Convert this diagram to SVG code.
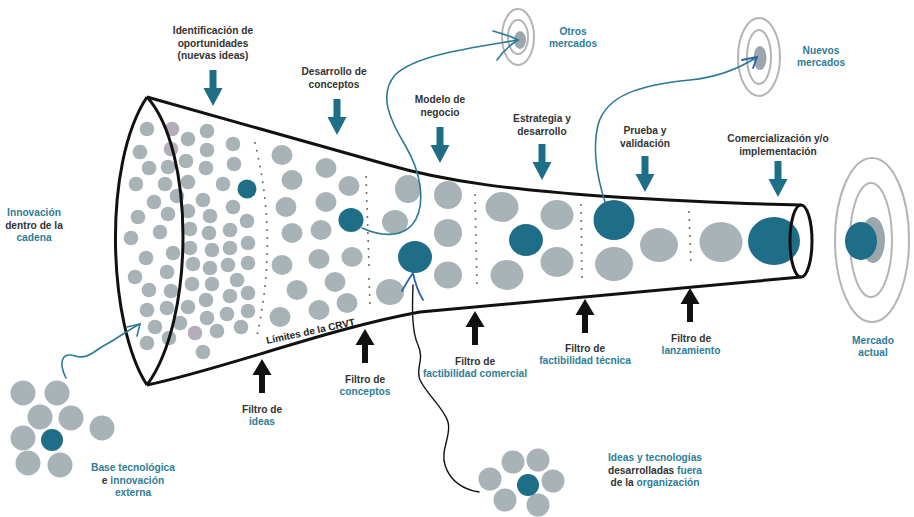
<svg xmlns="http://www.w3.org/2000/svg" xmlns:xlink="http://www.w3.org/1999/xlink" width="914" height="517" viewBox="0 0 914 517">
<defs>
<style>
.lbl{font-family:"Liberation Sans",Arial,sans-serif;font-weight:bold;font-size:10.2px;fill:#333;text-anchor:middle}
.tl{fill:#2c7d98}
.g{fill:#a8b3b8}
.p{fill:#b5adba}
.t{fill:#1f6e87}
.ring{fill:none;stroke:#b5b5b5;stroke-width:2}
.dots{fill:none;stroke:#6e6752;stroke-width:2;stroke-linecap:round;stroke-dasharray:0 8}
.outline{fill:none;stroke:#111;stroke-width:3;stroke-linejoin:round}
.conn{fill:none;stroke:#2a7b95;stroke-width:1.6;stroke-linecap:round}
.blk{fill:none;stroke:#111;stroke-width:1.4;stroke-linecap:round}
.head{fill:none;stroke:#2f62a8;stroke-width:1.8;stroke-linecap:round;stroke-linejoin:round}
</style>
<path id="down" d="M-3.5,-36 H3.5 V-18 H9.5 L0,0 L-9.5,-18 H-3.5 Z"/>
<path id="up" d="M0,0 L9.5,16 H3 V34 H-3 V16 H-9.5 Z"/>
</defs>

<g id="funnel-contents">
<g id="stage-ideas">
<circle class="g" cx="147" cy="129" r="7.3"/><circle class="p" cx="172" cy="129" r="7.3"/><circle class="g" cx="188" cy="139" r="7.3"/><circle class="g" cx="207" cy="131" r="7.3"/>
<circle class="g" cx="140" cy="152" r="7.3"/><circle class="p" cx="171" cy="149" r="7.3"/><circle class="g" cx="207" cy="150" r="7.3"/><circle class="g" cx="233" cy="144" r="7.3"/>
<circle class="g" cx="149" cy="168" r="7.3"/><circle class="g" cx="168" cy="167" r="7.3"/><circle class="g" cx="186" cy="161" r="7.3"/><circle class="g" cx="206" cy="168" r="7.3"/><circle class="g" cx="234" cy="164" r="7.3"/>
<circle class="g" cx="136" cy="184" r="7.3"/><circle class="g" cx="165" cy="184" r="7.3"/><circle class="g" cx="188" cy="182" r="7.3"/><circle class="g" cx="223" cy="184" r="7.3"/><circle class="t" cx="247" cy="189" r="9.5"/>
<circle class="g" cx="154" cy="202" r="7.3"/><circle class="g" cx="177" cy="196" r="7.3"/><circle class="g" cx="203" cy="200" r="7.3"/><circle class="g" cx="188" cy="211" r="7.3"/>
<circle class="g" cx="138" cy="217" r="7.3"/><circle class="g" cx="168" cy="214" r="7.3"/><circle class="g" cx="210" cy="216" r="7.3"/><circle class="g" cx="233" cy="207" r="7.3"/><circle class="g" cx="247" cy="221" r="7.3"/>
<circle class="g" cx="131" cy="238" r="7.3"/><circle class="g" cx="160" cy="232" r="7.3"/><circle class="g" cx="190" cy="229" r="7.3"/><circle class="g" cx="209" cy="233" r="7.3"/><circle class="g" cx="230" cy="230" r="7.3"/>
<circle class="g" cx="146" cy="258" r="7.3"/><circle class="g" cx="173" cy="253" r="7.3"/><circle class="g" cx="190" cy="248" r="7.3"/><circle class="g" cx="212" cy="250" r="7.3"/><circle class="g" cx="230" cy="248" r="7.3"/><circle class="g" cx="248" cy="243" r="7.3"/>
<circle class="g" cx="135" cy="277" r="7.3"/><circle class="g" cx="167" cy="272" r="7.3"/><circle class="g" cx="193" cy="264" r="7.3"/><circle class="g" cx="210" cy="268" r="7.3"/><circle class="g" cx="228" cy="265" r="7.3"/><circle class="g" cx="248" cy="263" r="7.3"/>
<circle class="g" cx="149" cy="290" r="7.3"/><circle class="g" cx="171" cy="291" r="7.3"/><circle class="g" cx="192" cy="284" r="7.3"/><circle class="g" cx="212" cy="284" r="7.3"/><circle class="g" cx="237" cy="280" r="7.3"/>
<circle class="g" cx="147" cy="310" r="7.3"/><circle class="g" cx="167" cy="308" r="7.3"/><circle class="g" cx="188" cy="307" r="7.3"/><circle class="g" cx="206" cy="300" r="7.3"/><circle class="g" cx="230" cy="296" r="7.3"/><circle class="g" cx="248" cy="293" r="7.3"/>
<circle class="g" cx="207" cy="318" r="7.3"/><circle class="g" cx="227" cy="314" r="7.3"/><circle class="g" cx="248" cy="311" r="7.3"/>
<circle class="g" cx="155" cy="327" r="7.3"/><circle class="g" cx="180" cy="323" r="7.3"/><circle class="p" cx="195" cy="333" r="7.3"/><circle class="g" cx="217" cy="331" r="7.3"/><circle class="g" cx="241" cy="327" r="7.3"/>
<circle class="g" cx="147" cy="343" r="7.3"/><circle class="g" cx="169" cy="338" r="7.3"/><circle class="g" cx="203" cy="352" r="7.3"/>
</g>
<g id="stage-concepts">
<ellipse class="g" cx="282" cy="155" rx="10.5" ry="10"/><ellipse class="g" cx="292" cy="180" rx="10.5" ry="10"/><ellipse class="g" cx="286" cy="207" rx="10.5" ry="10"/><ellipse class="g" cx="292" cy="233" rx="10.5" ry="10"/>
<ellipse class="g" cx="282" cy="265" rx="10.5" ry="10"/><ellipse class="g" cx="297" cy="290" rx="10.5" ry="10"/><ellipse class="g" cx="280" cy="317" rx="10.5" ry="10"/>
<ellipse class="g" cx="326" cy="168" rx="10.5" ry="10"/><ellipse class="g" cx="349" cy="186" rx="10.5" ry="10"/><ellipse class="g" cx="326" cy="202" rx="10.5" ry="10"/><ellipse class="g" cx="321" cy="230" rx="10.5" ry="10"/>
<ellipse class="g" cx="319" cy="259" rx="10.5" ry="10"/><ellipse class="g" cx="352" cy="257" rx="10.5" ry="10"/><ellipse class="g" cx="335" cy="282" rx="10.5" ry="10"/><ellipse class="g" cx="319" cy="310" rx="10.5" ry="10"/><ellipse class="g" cx="347" cy="303" rx="10.5" ry="10"/>
<ellipse class="t" cx="351" cy="220" rx="12.5" ry="12"/>
</g>
<g id="stage-business">
<ellipse class="g" cx="408" cy="189" rx="13" ry="14"/><ellipse class="g" cx="395" cy="222" rx="13" ry="12"/><ellipse class="g" cx="390" cy="292" rx="14" ry="13"/>
<ellipse class="g" cx="448" cy="195" rx="14" ry="14"/><ellipse class="g" cx="448" cy="233" rx="14" ry="14"/><ellipse class="g" cx="448" cy="275" rx="14" ry="13.5"/>
<ellipse class="t" cx="415" cy="257" rx="17" ry="16"/>
</g>
<g id="stage-strategy">
<ellipse class="g" cx="502" cy="207" rx="16.5" ry="15"/><ellipse class="g" cx="557" cy="215" rx="16.5" ry="15"/><ellipse class="g" cx="507" cy="275" rx="16.5" ry="15"/><ellipse class="g" cx="557" cy="262" rx="16.5" ry="15"/>
<ellipse class="t" cx="526" cy="240" rx="17" ry="16"/>
</g>
<g id="stage-test">
<ellipse class="t" cx="614" cy="220" rx="20.5" ry="20"/><ellipse class="g" cx="614" cy="264" rx="19" ry="17"/><ellipse class="g" cx="659" cy="245" rx="19" ry="17"/>
</g>
<g id="stage-launch">
<ellipse class="g" cx="721" cy="242" rx="21.5" ry="20"/><ellipse class="t" cx="774" cy="241" rx="26" ry="24"/>
</g>
<g id="filters-dotted">
<path class="dots" d="M255,143 Q279,240 256,340"/>
<path class="dots" d="M366,177 L369,265 M369,279 L370,304"/>
<path class="dots" d="M475,195 L477,287"/>
<path class="dots" d="M581,205 L582,278"/>
<path class="dots" d="M689,212 L691,265"/>
</g>
</g>

<g id="funnel">
<path class="outline" d="M147,97 L385,164 C450,183 520,190 600,196 C680,201 740,204 801,205"/>
<path class="outline" d="M147,385 C220,370 330,328 420,312 L801,277"/>
<path class="outline" d="M147,97 C102,165 108,325 147,385"/>
<path class="outline" d="M147,97 C195,150 195,320 147,385"/>
<ellipse class="outline" cx="801" cy="241" rx="11" ry="36"/>
<text class="lbl" font-size="10" text-anchor="start" transform="translate(267,344) rotate(-12)" style="text-anchor:start;font-size:10px;fill:#222">Límites de la CRVT</text>
</g>

<g id="market-otros">
<ellipse class="ring" cx="518" cy="37" rx="16" ry="28"/>
<ellipse class="ring" cx="518" cy="37" rx="10" ry="17"/>
<ellipse cx="520" cy="40" rx="6" ry="9" fill="#9ca7ad"/>
<text class="lbl tl" x="573" y="35">Otros</text>
<text class="lbl tl" x="573" y="47">mercados</text>
</g>
<g id="market-nuevos">
<ellipse class="ring" cx="759" cy="57" rx="21" ry="39"/>
<ellipse class="ring" cx="759" cy="57" rx="12" ry="27"/>
<ellipse cx="760" cy="58" rx="6.5" ry="12" fill="#9ca7ad"/>
<text class="lbl tl" x="821" y="54">Nuevos</text>
<text class="lbl tl" x="821" y="66">mercados</text>
</g>
<g id="market-actual">
<ellipse class="ring" cx="872" cy="240" rx="37" ry="82"/>
<ellipse class="ring" cx="871" cy="240" rx="21" ry="57"/>
<ellipse cx="873" cy="240" rx="12" ry="23" fill="#9ca7ad"/>
<ellipse class="t" cx="861" cy="241" rx="16" ry="19"/>
<text class="lbl tl" x="873" y="344">Mercado</text>
<text class="lbl tl" x="873" y="356">actual</text>
</g>

<g id="stages-top" fill="#1f6e87">
<g id="s-identificacion"><use href="#down" x="213" y="106"/>
<text class="lbl" x="213" y="34">Identificación de</text><text class="lbl" x="213" y="46.5">oportunidades</text><text class="lbl" x="213" y="59">(nuevas ideas)</text></g>
<g id="s-desarrollo"><use href="#down" x="337" y="135"/>
<text class="lbl" x="334" y="75">Desarrollo de</text><text class="lbl" x="334" y="87.5">conceptos</text></g>
<g id="s-modelo"><use href="#down" x="440" y="163"/>
<text class="lbl" x="440" y="103">Modelo de</text><text class="lbl" x="440" y="115.5">negocio</text></g>
<g id="s-estrategia"><use href="#down" x="542" y="180"/>
<text class="lbl" x="542" y="122">Estrategia y</text><text class="lbl" x="542" y="134.5">desarrollo</text></g>
<g id="s-prueba"><use href="#down" x="645" y="192"/>
<text class="lbl" x="645" y="134">Prueba y</text><text class="lbl" x="645" y="146.5">validación</text></g>
<g id="s-comercializacion"><use href="#down" x="778" y="197"/>
<text class="lbl" x="778" y="142">Comercialización y/o</text><text class="lbl" x="778" y="154.5">implementación</text></g>
</g>

<g id="filters-bottom" fill="#111">
<g id="f-ideas"><use href="#up" x="262" y="359"/>
<text class="lbl" x="262" y="413">Filtro de</text><text class="lbl tl" x="262" y="425">ideas</text></g>
<g id="f-conceptos"><use href="#up" x="365" y="329"/>
<text class="lbl" x="365" y="383">Filtro de</text><text class="lbl tl" x="365" y="395">conceptos</text></g>
<g id="f-comercial"><use href="#up" x="475" y="311"/>
<text class="lbl" x="475" y="365">Filtro de</text><text class="lbl tl" x="475" y="377">factibilidad comercial</text></g>
<g id="f-tecnica"><use href="#up" x="585" y="299"/>
<text class="lbl" x="585" y="352">Filtro de</text><text class="lbl tl" x="585" y="364">factibilidad técnica</text></g>
<g id="f-lanzamiento"><use href="#up" x="690" y="288"/>
<text class="lbl" x="691" y="342">Filtro de</text><text class="lbl tl" x="691" y="354">lanzamiento</text></g>
</g>

<g id="innovacion-cadena">
<text class="lbl tl" x="34" y="216">Innovación</text>
<text class="lbl" x="34" y="229">dentro de la</text>
<text class="lbl tl" x="34" y="241">cadena</text>
</g>

<g id="base-externa">
<circle class="g" cx="23" cy="393" r="12.5"/><circle class="g" cx="57" cy="393" r="12.5"/><circle class="g" cx="40" cy="417" r="12.5"/><circle class="g" cx="71" cy="418" r="12.5"/>
<circle class="g" cx="102" cy="428" r="12.5"/><circle class="g" cx="23" cy="438" r="12.5"/><circle class="t" cx="52" cy="440" r="11"/><circle class="g" cx="28" cy="463" r="12.5"/><circle class="g" cx="60" cy="465" r="12.5"/>
<text class="lbl tl" x="133" y="471">Base tecnológica</text>
<text class="lbl" x="133" y="484">e <tspan class="tl">innovación</tspan></text>
<text class="lbl tl" x="133" y="496">externa</text>
</g>

<g id="ideas-fuera">
<circle class="g" cx="490" cy="479" r="11.5"/><circle class="g" cx="513" cy="462" r="11.5"/><circle class="g" cx="538" cy="460" r="11.5"/><circle class="g" cx="553" cy="481" r="11.5"/>
<circle class="g" cx="505" cy="500" r="11.5"/><circle class="g" cx="538" cy="505" r="11.5"/><circle class="t" cx="528" cy="485" r="11"/>
<text class="lbl tl" x="655" y="461">Ideas y tecnologías</text>
<text class="lbl" x="655" y="474">desarrolladas <tspan class="tl">fuera</tspan></text>
<text class="lbl" x="655" y="486">de la <tspan class="tl">organización</tspan></text>
</g>

<g id="connectors">
<path class="conn" d="M362,228 C380,236 400,238 412,225 C428,205 420,170 405,145 C390,120 378,95 395,75 C415,55 470,48 518,40"/>
<path class="conn" d="M493,31 Q508,35 518,40 Q505,48 497,60"/>
<path class="conn" d="M605,202 C598,180 592,150 598,125 C606,95 640,85 690,80 C720,77 740,68 757,57"/>
<path class="head" d="M742,60 L757,57 L753,68"/>
<path class="conn" d="M66,378 C58,362 62,352 75,356 C88,360 95,350 105,345 C118,338 128,330 140,324"/>
<path class="conn" d="M127,327 L140,324 L137,336"/>
<path class="blk" d="M479,492 C465,490 450,482 445,465 C440,450 452,435 448,422 C444,408 428,396 420,380 C415,368 425,360 418,345 C412,332 412,310 413,285"/>
<path class="head" d="M402,291 Q408,280 413,273 Q416,288 423,300"/>
</g>
</svg>
